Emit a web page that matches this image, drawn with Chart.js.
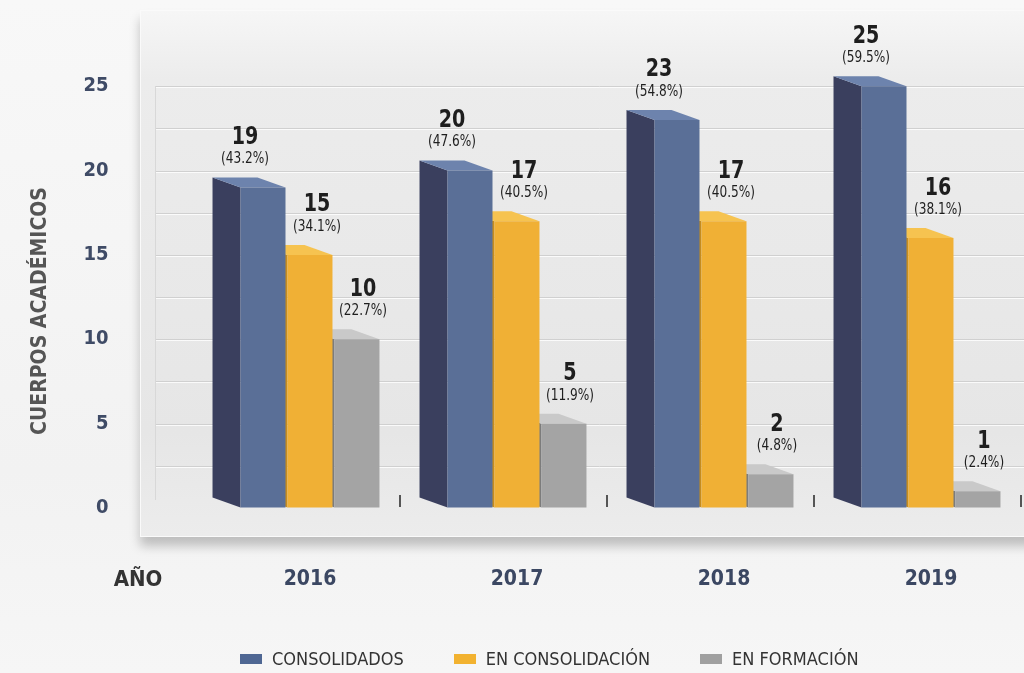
<!DOCTYPE html>
<html lang="es">
<head>
  <meta charset="UTF-8" />
  <title>Cuerpos académicos por año</title>
  <script src="https://cdn.jsdelivr.net/npm/chart.js"></script>
  <style>
    html, body { margin: 0; padding: 0; overflow: hidden; }
    body {
      width: 1024px; height: 673px; position: relative;
      background: linear-gradient(#f8f8f8, #f2f2f2 70%, #f6f6f6);
      font-family: "DejaVu Sans Condensed", "DejaVu Sans", sans-serif;
    }
    #panel {
      position: absolute; left: 140px; top: 10px; width: 900px; height: 525px;
      background: linear-gradient(#f6f6f6, #ececec 13%, #e6e6e6 80%, #ececec);
      border: 1px solid #fafafa;
      box-shadow: 0 9px 10px rgba(0, 0, 0, 0.22);
    }
    #wrap { position: absolute; left: 0; top: 0; width: 1044px; height: 673px; }
    #legend {
      position: absolute; left: 240px; top: 648px; display: flex; align-items: center;
      font-size: 18px; color: #333;
    }
    #legend .item { display: flex; align-items: center; margin-right: 50px; }
    #legend .box { width: 22px; height: 10px; margin-right: 10px; }
  </style>
</head>
<body>
  <div id="panel"></div>
  <div id="wrap"><canvas id="chart" width="1044" height="673"></canvas></div>
  <div id="legend"></div>

  <script>
    // datos
    const years = ['2016', '2017', '2018', '2019'];
    const seriesNames = ['CONSOLIDADOS', 'EN CONSOLIDACIÓN', 'EN FORMACIÓN'];
    const consolidados = [19, 20, 23, 25];
    const enConsolidacion = [15, 17, 17, 16];
    const enFormacion = [10, 5, 2, 1];
    const pctConsolidados = ['43.2%', '47.6%', '54.8%', '59.5%'];
    const pctEnConsolidacion = ['34.1%', '40.5%', '40.5%', '38.1%'];
    const pctEnFormacion = ['22.7%', '11.9%', '4.8%', '2.4%'];
    const yTickLabels = [0, 5, 10, 15, 20, 25];

    // colores: frente, lado, tapa
    const styles = [
      { front: '#5a6f97', side: '#3a3f5e', top: '#6d83ad', legend: '#4f6793', labelShift: -18 },
      { front: '#f0b035', side: '#c68c1e', top: '#f6c350', legend: '#f2b230', labelShift: 7 },
      { front: '#a4a4a4', side: '#7c7c7c', top: '#c9c9c9', legend: '#a0a0a0', labelShift: 6 }
    ];
    const values = [consolidados, enConsolidacion, enFormacion];
    const pcts = [pctConsolidados, pctEnConsolidacion, pctEnFormacion];

    const DX = -28, DY = -10; // profundidad del efecto 3D
    const FONT = '"DejaVu Sans Condensed", "DejaVu Sans", sans-serif';

    function poly(ctx, pts, color) {
      ctx.beginPath();
      ctx.moveTo(pts[0][0], pts[0][1]);
      pts.slice(1).forEach(p => ctx.lineTo(p[0], p[1]));
      ctx.closePath();
      ctx.fillStyle = color;
      ctx.fill();
    }

    const bars3d = {
      id: 'bars3d',
      beforeDatasetsDraw(chart) {
        const ctx = chart.ctx, y = chart.scales.y, x = chart.scales.x;
        const area = chart.chartArea;
        ctx.save();
        // líneas de la pared del fondo
        y.ticks.forEach(t => {
          if (t.value <= 0 || t.value > 25) return;
          const py = Math.round(y.getPixelForValue(t.value)) + 0.5;
          ctx.strokeStyle = '#d0d0d0';
          ctx.lineWidth = 1;
          ctx.beginPath(); ctx.moveTo(155, py); ctx.lineTo(chart.width, py); ctx.stroke();
          ctx.strokeStyle = 'rgba(255,255,255,0.8)';
          ctx.beginPath(); ctx.moveTo(155, py + 1); ctx.lineTo(chart.width, py + 1); ctx.stroke();
        });
        ctx.strokeStyle = '#d8d8d8';
        ctx.beginPath(); ctx.moveTo(155.5, y.getPixelForValue(25)); ctx.lineTo(155.5, area.bottom - 8); ctx.stroke();

        // marcas entre categorías
        const step = x.getPixelForValue(1) - x.getPixelForValue(0);
        ctx.fillStyle = '#555';
        years.forEach((yr, i) => {
          const bx = Math.round(x.getPixelForValue(i) + step / 2 + DX / 2);
          ctx.fillRect(bx - 1, area.bottom + DY / 2 - 8, 2, 12);
        });

        // caras laterales y superiores
        chart.data.datasets.forEach((ds, di) => {
          const st = styles[di];
          chart.getDatasetMeta(di).data.forEach(bar => {
            const l = bar.x - bar.width / 2, r = bar.x + bar.width / 2;
            const t = bar.y, b = bar.base;
            poly(ctx, [[l, b], [l + DX, b + DY], [l + DX, t + DY], [l, t]], st.side);
            poly(ctx, [[l, t], [l + DX, t + DY], [r + DX, t + DY], [r, t]], st.top);
          });
        });
        ctx.restore();
      },
      afterDatasetsDraw(chart) {
        const ctx = chart.ctx;
        ctx.save();
        ctx.fillStyle = '#1e1e1e';
        ctx.textAlign = 'center';
        ctx.textBaseline = 'middle';
        chart.data.datasets.forEach((ds, di) => {
          chart.getDatasetMeta(di).data.forEach((bar, i) => {
            const cx = bar.x + styles[di].labelShift;
            const top = bar.y + DY;
            ctx.save();
            ctx.translate(cx, top - 40);
            ctx.scale(0.85, 1);
            ctx.font = 'bold 25px ' + FONT;
            ctx.fillText(String(values[di][i]), 0, 0);
            ctx.restore();
            ctx.save();
            ctx.translate(cx, top - 18);
            ctx.scale(0.9, 1);
            ctx.font = '15px ' + FONT;
            ctx.fillText('(' + pcts[di][i] + ')', 0, 0);
            ctx.restore();
          });
        });

        // título del eje y y rótulo del eje x
        ctx.fillStyle = '#555';
        ctx.save();
        ctx.translate(41, 311);
        ctx.rotate(-Math.PI / 2);
        ctx.font = 'bold 21px ' + FONT;
        ctx.fillText('CUERPOS ACADÉMICOS', 0, 0);
        ctx.restore();
        ctx.fillStyle = '#333';
        ctx.font = 'bold 22px ' + FONT;
        ctx.fillText('AÑO', 138, 580);
        ctx.restore();
      }
    };

    new Chart(document.getElementById('chart'), {
      type: 'bar',
      data: {
        labels: years,
        datasets: seriesNames.map((name, i) => ({
          label: name,
          data: values[i],
          backgroundColor: styles[i].front,
          borderWidth: 0,
          categoryPercentage: 0.681,
          barPercentage: 0.957
        }))
      },
      options: {
        responsive: false,
        animation: false,
        layout: { padding: { top: 44, right: 9.5, bottom: 0, left: 0 } },
        plugins: { legend: { display: false }, tooltip: { enabled: false } },
        scales: {
          x: {
            grid: { display: false, drawTicks: false },
            border: { display: false },
            ticks: { color: '#3b4762', padding: 59, font: { family: FONT, size: 21, weight: 'bold' } },
            afterFit: s => { s.height = 165; }
          },
          y: {
            min: 0, max: 27.5,
            // las marcas son transparentes: solo separan las etiquetas del área
            grid: { display: true, color: 'rgba(0,0,0,0)', drawOnChartArea: false, drawTicks: true, tickLength: 94 },
            border: { display: false },
            ticks: {
              stepSize: 2.5,
              padding: 4,
              color: '#3f4b66',
              font: { family: FONT, size: 20, weight: 'bold' },
              callback: v => yTickLabels.includes(v) ? v : ''
            },
            afterFit: s => { s.width = 206.5; }
          }
        }
      },
      plugins: [bars3d]
    });

    // leyenda
    const legend = document.getElementById('legend');
    seriesNames.forEach((name, i) => {
      const item = document.createElement('div');
      item.className = 'item';
      item.innerHTML = `<span class="box" style="background:${styles[i].legend}"></span><span>${name}</span>`;
      legend.appendChild(item);
    });
  </script>
</body>
</html>
